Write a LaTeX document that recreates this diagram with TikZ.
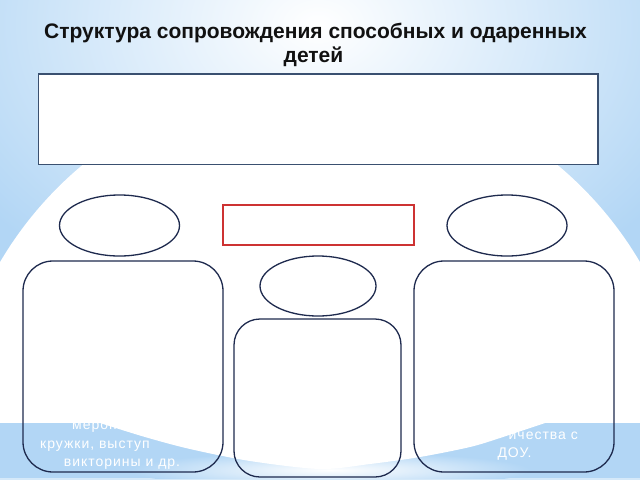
\documentclass[tikz,border=0pt]{standalone}
\usepackage{fontspec}
\setmainfont{Liberation Sans}
\newfontfamily\spacedfont[LetterSpace=7]{Liberation Sans}
\usetikzlibrary{shapes.geometric}
\definecolor{bgblue}{RGB}{178,214,245}
\definecolor{navy}{RGB}{30,42,78}
\definecolor{slate}{RGB}{58,80,112}
\definecolor{redline}{RGB}{205,50,50}
\definecolor{titleink}{RGB}{17,17,17}
\begin{document}
\begin{tikzpicture}[x=1pt,y=-1pt,
  rbox/.style={draw=navy, line width=1.3pt, rectangle, rounded corners=#1, inner sep=0pt},
  rbox/.default=30pt,
  ell/.style={draw=navy, line width=1.3pt, ellipse, fill=white, inner sep=0pt},
  titletext/.style={font=\bfseries\fontsize{21}{24}\selectfont, text=titleink, inner sep=0pt},
  hidden/.style={font=\spacedfont\fontsize{14}{18}\selectfont, text=white, inner sep=0pt}]
\useasboundingbox (0,0) rectangle (640,480);
% background
\fill[bgblue] (0,0) rectangle (640,480);
\begin{scope}
  \clip (0,0) rectangle (640,263);
  \shade[inner color=white, outer color=bgblue] (318,25) ellipse [x radius=420pt, y radius=300pt];
  \fill[white] (320,450) circle [radius=371pt];
\end{scope}
\fill[white] (0,263) rectangle (640,423);
% bottom glow
\fill[bgblue!55!white] (0,478) rectangle (640,480);
\begin{scope}
  \clip (0,423) rectangle (640,478);
  \shade[inner color=white, outer color=bgblue] (330,470) ellipse [x radius=200pt, y radius=18pt];
\end{scope}
% white text (partly hidden)
\node[hidden, anchor=base west] (l1) at (72,429.5) {мероп};
\node[hidden, anchor=base west] (l2) at (40,448) {кружки, выступ};
\node[hidden, anchor=base] (l3) at (122,466.5) {викторины и др.};
\node[hidden, anchor=base east] (r1) at (578,439.5) {ичества с};
\node[hidden, anchor=base] (r2) at (514.5,457.5) {ДОУ.};
% bottom white wave
\fill[white] (95,423) -- plot[smooth] coordinates {(100,423) (145,437) (190,449) (250,461) (320,469) (370,464) (420,457) (470,447) (500,438) (545,423)} -- cycle;
% shapes
\node[draw=slate, line width=1.6pt, fill=white, rectangle, inner sep=0pt,
      minimum width=559.5pt, minimum height=90.5pt] (bigrect) at (318.25,119.25) {};
\node[ell, minimum width=120pt, minimum height=61pt] (lell) at (119.5,225.5) {};
\node[ell, minimum width=120pt, minimum height=61pt] (rell) at (507,225.5) {};
\node[draw=redline, line width=1.5pt, rectangle, inner sep=0pt,
      minimum width=191pt, minimum height=40pt] (redrect) at (318.4,225) {};
\node[rbox, minimum width=200pt, minimum height=211pt] (lbox) at (123,366.5) {};
\node[rbox, minimum width=200pt, minimum height=211pt] (rbox) at (514,366.5) {};
\node[ell, minimum width=116pt, minimum height=60pt] (mell) at (318,286) {};
\node[rbox=26pt, minimum width=167pt, minimum height=158pt] (mbox) at (317.5,398) {};
% title
\node[titletext, anchor=base] (t1) at (315.5,38) {Структура сопровождения способных и одаренных};
\node[titletext, anchor=base] (t2) at (313.5,62) {детей};
\end{tikzpicture}
\end{document}
